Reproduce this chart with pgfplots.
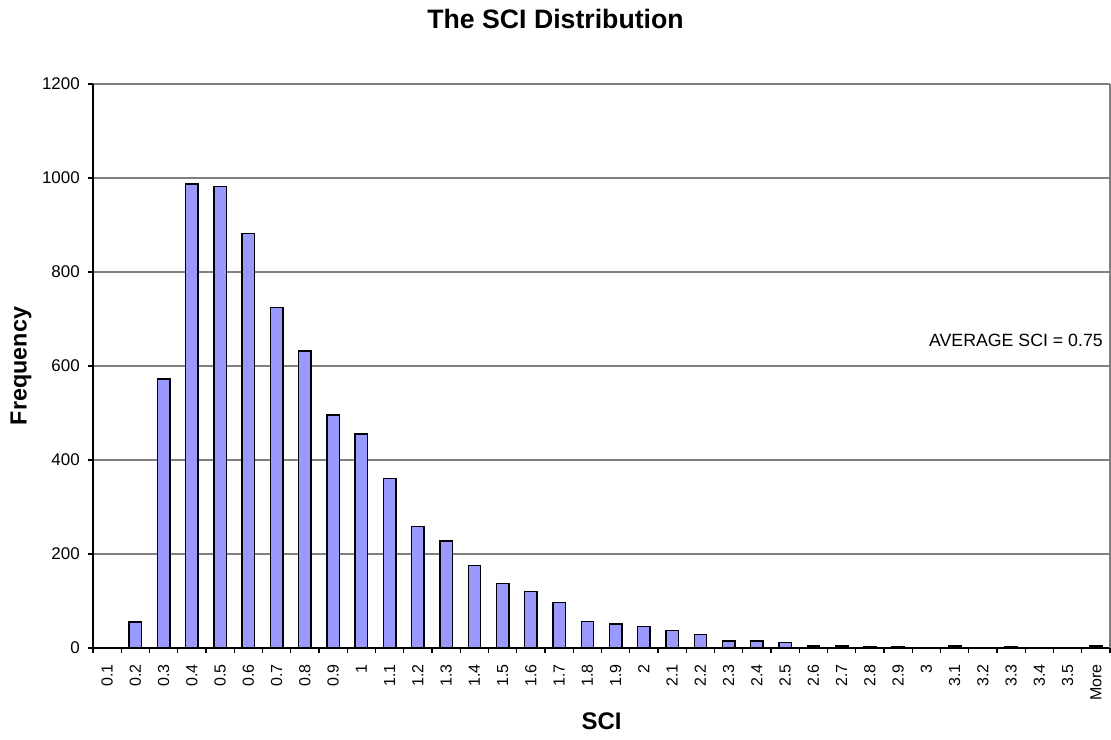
\documentclass[border=0pt]{standalone}
\usepackage{fontspec}
\setmainfont{Liberation Sans}
\usepackage{pgfplots}
\pgfplotsset{compat=1.18}
\definecolor{barblue}{HTML}{9999FF}
\definecolor{gridgray}{HTML}{808080}
\begin{document}
\begin{tikzpicture}
\begin{axis}[
    name=ax,
    scale only axis,
    width=762.75pt, height=423pt,
    xmin=-0.5, xmax=35.5,
    ymin=0, ymax=1200,
    axis x line*=bottom,
    axis y line*=left,
    axis line style={black, line width=0.9pt},
    xtick={0,...,35},
    xticklabels={0.1,0.2,0.3,0.4,0.5,0.6,0.7,0.8,0.9,1,1.1,1.2,1.3,1.4,1.5,1.6,1.7,1.8,1.9,2,2.1,2.2,2.3,2.4,2.5,2.6,2.7,2.8,2.9,3,3.1,3.2,3.3,3.4,3.5,More},
    minor xtick={-0.5,0.5,...,35.5},
    major x tick style={draw=none},
    minor x tick style={black, line width=0.9pt},
    minor tick length=3.75pt,
    ytick={0,200,...,1200},
    major y tick style={black, line width=0.9pt},
    major tick length=3.75pt,
    tick align=outside,
    ymajorgrids,
    grid style={gridgray, line width=0.8pt},
    /pgf/number format/assume math mode=true,
    /pgf/number format/1000 sep={},
    xticklabel style={rotate=90, anchor=east, inner sep=0pt, font=\fontsize{12}{14}\selectfont, xshift=-8.25pt},
    yticklabel style={inner sep=0pt, xshift=-6pt, font=\fontsize{12.7}{14}\selectfont},
    xlabel={\textbf{SCI}},
    ylabel={\textbf{Frequency}},
    xlabel style={font=\fontsize{18}{20}\selectfont, at={(rel axis cs:0.5,0)}, anchor=center, yshift=-54.75pt},
    ylabel style={font=\fontsize{17.5}{20}\selectfont, at={(rel axis cs:0,0.5)}, anchor=center, rotate=0, xshift=0pt, yshift=54pt},
    clip=false,
]
\addplot[ybar, bar width=0.44, fill=barblue, draw=black, line width=1pt]
    coordinates {
        (1,55) (2,572) (3,987) (4,982) (5,882) (6,725) (7,632) (8,496)
        (9,455) (10,360) (11,258) (12,228) (13,175) (14,137) (15,120)
        (16,97) (17,57) (18,51) (19,46) (20,37) (21,29) (22,15) (23,15)
        (24,12) (25,4) (26,4) (27,2) (28,2) (29,1) (30,4) (31,1) (32,2)
        (33,1) (35,4)
    };
\draw[gridgray, line width=0.8pt] (rel axis cs:1,0) -- (rel axis cs:1,1);
\node[anchor=east, font=\fontsize{13.3}{15}\selectfont, inner sep=0pt] at ([xshift=-5.25pt]rel axis cs:1,0.546) {AVERAGE SCI = 0.75};
\coordinate (bl) at (rel axis cs:0,0);
\coordinate (tr) at (rel axis cs:1,1);
\end{axis}
\node[font=\bfseries\fontsize{20}{22}\selectfont] at ([shift={(346.9pt,471.75pt)}]bl) {The SCI Distribution};
\pgfresetboundingbox
\path ([shift={(-69.75pt,-68.25pt)}]bl) rectangle ([shift={(0.75pt,63pt)}]tr);
\end{tikzpicture}
\end{document}
